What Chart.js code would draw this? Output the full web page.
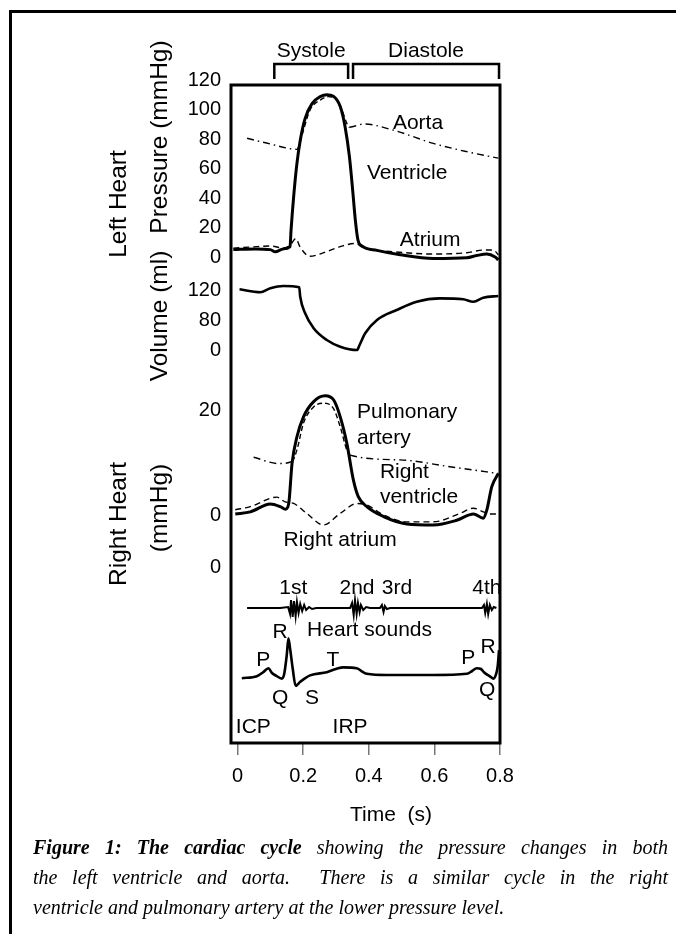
<!DOCTYPE html>
<html>
<head>
<meta charset="utf-8">
<script src="https://cdn.jsdelivr.net/npm/chart.js@4.4.1/dist/chart.umd.min.js"></script>
<style>
  html, body { margin: 0; padding: 0; background: #fff; width: 676px; height: 934px; overflow: hidden; }
  #frame { position: absolute; left: 9px; top: 10px; width: 720px; height: 980px;
           border-left: 3px solid #000; border-top: 3px solid #000; }
  #c { position: absolute; left: 0; top: 0; }
  #cap { position: absolute; left: 33px; top: 832px; width: 635px;
         font-family: "Liberation Serif", "Times New Roman", serif; font-style: italic;
         font-size: 20px; line-height: 30px; color: #000; }
  #cap .j { text-align: justify; text-align-last: justify; white-space: normal; }
</style>
</head>
<body>
<div id="frame"></div>
<canvas id="c" width="676" height="934"></canvas>
<div id="cap">
  <div class="j"><b>Figure 1: The cardiac cycle</b> showing the pressure changes in both</div>
  <div class="j">the left ventricle and aorta.&nbsp; There is a similar cycle in the right</div>
  <div>ventricle and pulmonary artery at the lower pressure level.</div>
</div>
<script>
// ---------------- DATA ----------------
// Time (s)
const xTicks = [0, 0.2, 0.4, 0.6, 0.8];

// Left heart pressure (mmHg)
const lvT = [-0.013, 0.054, 0.100, 0.115, 0.139, 0.160, 0.163, 0.171, 0.181, 0.191, 0.206, 0.227, 0.252, 0.272, 0.292, 0.313, 0.328, 0.341, 0.351, 0.359, 0.367, 0.379, 0.425, 0.496, 0.597, 0.699, 0.729, 0.760, 0.785, 0.795];
const lvP = [5, 5.5, 5, 3.5, 5.5, 7, 18, 41, 63.5, 79, 94, 104, 108.7, 110, 109, 102, 88, 68, 45, 25, 11.5, 7.5, 4.5, 1.5, -1, -0.5, 1, 2, 0, -2];

const aoT = [0.029, 0.100, 0.181, 0.191, 0.201, 0.221, 0.252, 0.277, 0.298, 0.318, 0.333, 0.341, 0.358, 0.384, 0.475, 0.597, 0.699, 0.795];
const aoP = [80.5, 76.6, 73, 78, 86, 99.7, 106.4, 108.7, 107.6, 99.7, 90.6, 88, 88.8, 90.2, 86, 77, 71.4, 67];

const laT = [-0.013, 0.06, 0.10, 0.14, 0.16, 0.178, 0.19, 0.22, 0.27, 0.313, 0.358, 0.385, 0.475, 0.597, 0.699, 0.75, 0.78, 0.795];
const laP = [6, 7, 7.5, 6, 8, 12.5, 7, 0.5, 3.5, 7, 9.2, 6, 3.6, 2, 2.9, 4.7, 4.7, 1.4];

// Left ventricular volume (ml)
const volT = [0.006, 0.069, 0.100, 0.140, 0.188, 0.191, 0.206, 0.232, 0.272, 0.313, 0.364, 0.372, 0.389, 0.425, 0.485, 0.546, 0.617, 0.688, 0.719, 0.749, 0.795];
const volV = [120.9, 117, 122.3, 125.3, 123.6, 111, 89, 69, 53.3, 44.4, 40, 46.7, 62.3, 80, 93.3, 104.4, 108.9, 107.6, 104.4, 109.7, 112];

// Right heart pressure (mmHg)
const rvT = [-0.007, 0.039, 0.100, 0.130, 0.146, 0.156, 0.166, 0.181, 0.201, 0.232, 0.267, 0.293, 0.313, 0.333, 0.353, 0.368, 0.394, 0.445, 0.516, 0.597, 0.668, 0.719, 0.749, 0.760, 0.775, 0.795];
const rvP = [0.2, 0.6, 2.1, 1.6, 1.1, 2.2, 9.8, 14.9, 18.7, 21.6, 22.7, 21.9, 18.7, 13.7, 6.7, 3.5, 1.6, -0.3, -1.7, -1.9, -1, 0.2, -0.6, 1, 5.4, 7.9];

const paT = [0.049, 0.125, 0.166, 0.181, 0.201, 0.232, 0.262, 0.292, 0.313, 0.333, 0.343, 0.495, 0.647, 0.795];
const paP = [11, 9.8, 10.2, 12.4, 17.5, 20.6, 21.3, 20.3, 16.8, 12.4, 11.4, 10.5, 9.2, 7.9];

const raT = [-0.007, 0.039, 0.120, 0.145, 0.171, 0.211, 0.262, 0.313, 0.364, 0.394, 0.445, 0.516, 0.597, 0.678, 0.719, 0.749, 0.770, 0.795];
const raP = [1, 1.6, 3.4, 2.5, 2.2, 0.3, -1.9, 0.3, 2.2, 1.9, 0, -1.3, -1.3, 0.3, 1.3, 0.6, 0.2, 0.2];

// Heart sounds (arbitrary units)
const hsT = [0.029, 0.130, 0.154, 0.160, 0.163, 0.168, 0.172, 0.177, 0.181, 0.186, 0.191, 0.197, 0.203, 0.209, 0.218, 0.227, 0.240, 0.343, 0.349, 0.354, 0.358, 0.363, 0.367, 0.372, 0.376, 0.383, 0.392, 0.404, 0.434, 0.440, 0.445, 0.449, 0.455, 0.465, 0.745, 0.751, 0.755, 0.760, 0.764, 0.769, 0.775, 0.781, 0.789];
const hsA = [0, 0, 1, -6, 8, -9, 7, -8, 6, -5, 4, -3, 3, -2, 1, -1, 0, 0, 5, -7, 8, -6, 5, -4, 3, -2, 1, 0, 0, 3, -4, 2, -1, 0, 0, 3, -5, 4, -6, 3, -2, 1, 0];

// ECG (mV)
const ecgT = [0.013, 0.059, 0.078, 0.094, 0.105, 0.118, 0.135, 0.142, 0.150, 0.155, 0.160, 0.168, 0.177, 0.191, 0.221, 0.272, 0.300, 0.323, 0.363, 0.383, 0.394, 0.455, 0.597, 0.699, 0.715, 0.729, 0.742, 0.751, 0.770, 0.780, 0.788, 0.793, 0.797];
const ecgV = [-0.03, 0.02, 0.12, 0.22, 0.1, 0.03, -0.04, 0.07, 0.55, 0.97, 0.72, 0.22, -0.22, -0.12, 0.04, 0.12, 0.2, 0.24, 0.22, 0.12, 0.08, 0.05, 0.05, 0.08, 0.15, 0.22, 0.2, 0.12, 0.01, -0.04, 0.07, 0.27, 0.67];

// Axis tick labels
const lpTicks = [0, 20, 40, 60, 80, 100, 120];
const volTicks = [120, 80, 40];
const volTickLabels = ['120', '80', '0'];
const rhTicks = [20, 0, -10];
const rhTickLabels = ['20', '0', '0'];

// Cardiac phases (s)
const phaseNames = ['Systole', 'Diastole'];
const phaseStart = [0.112, 0.352];
const phaseEnd = [0.337, 0.797];

// ---------------- LAYOUT ----------------
const AREA = { left: 231, top: 85, right: 500, bottom: 743 };
const FONT = '"Liberation Sans", Arial, sans-serif';

function range(a, pa, b, pb) {
  const k = (pa - pb) / (b - a);
  return { min: a - (AREA.bottom - pa) / k, max: a + (pa - AREA.top) / k };
}
const rLP = range(0, 257, 120, 80);
const rVol = range(120, 290, 80, 320);
const rRH = range(0, 515, 20, 410);
const rSnd = range(0, 608, 10, 598);
const rEcg = range(0, 677, 1, 637);

const pts = (t, v) => t.map((x, i) => ({ x: x, y: v[i] }));
const dashBetween = (lo, hi, inner, outer) => (ctx) =>
  (ctx.p0.parsed.x >= lo - 1e-6 && ctx.p1.parsed.x <= hi + 1e-6) ? inner : outer;

const base = { borderColor: '#000', pointRadius: 0, fill: false, cubicInterpolationMode: 'monotone' };

const datasets = [
  Object.assign({}, base, { label: 'Ventricle', data: pts(lvT, lvP), yAxisID: 'yLP', borderWidth: 3 }),
  Object.assign({}, base, { label: 'Aorta', data: pts(aoT, aoP), yAxisID: 'yLP', borderWidth: 1.4,
    borderDash: [7, 4, 1.5, 4], segment: { borderDash: dashBetween(0.181, 0.341, [5, 3], [7, 4, 1.5, 4]) } }),
  Object.assign({}, base, { label: 'Atrium', data: pts(laT, laP), yAxisID: 'yLP', borderWidth: 1.4, borderDash: [6, 4] }),
  Object.assign({}, base, { label: 'Volume', data: pts(volT, volV), yAxisID: 'yVol', borderWidth: 2.6 }),
  Object.assign({}, base, { label: 'Right ventricle', data: pts(rvT, rvP), yAxisID: 'yRH', borderWidth: 3 }),
  Object.assign({}, base, { label: 'Pulmonary artery', data: pts(paT, paP), yAxisID: 'yRH', borderWidth: 1.4,
    borderDash: [7, 4, 1.5, 4], segment: { borderDash: dashBetween(0.166, 0.343, [5, 3], [7, 4, 1.5, 4]) } }),
  Object.assign({}, base, { label: 'Right atrium', data: pts(raT, raP), yAxisID: 'yRH', borderWidth: 1.4, borderDash: [6, 4] }),
  Object.assign({}, base, { label: 'Heart sounds', data: pts(hsT, hsA), yAxisID: 'ySnd', borderWidth: 2, cubicInterpolationMode: 'default', tension: 0 }),
  Object.assign({}, base, { label: 'ECG', data: pts(ecgT, ecgV), yAxisID: 'yEcg', borderWidth: 2.6 })
];

const yTickSets = [
  { axis: 'yLP', values: lpTicks, labels: lpTicks.map(String) },
  { axis: 'yVol', values: volTicks, labels: volTickLabels },
  { axis: 'yRH', values: rhTicks, labels: rhTickLabels }
];

const titles = [
  { text: 'Left Heart', x: 119, y: 204 },
  { text: 'Pressure (mmHg)', x: 160, y: 137 },
  { text: 'Volume (ml)', x: 160, y: 316 },
  { text: 'Right Heart', x: 119, y: 524 },
  { text: '(mmHg)', x: 160, y: 508 }
];

const notes = [
  { text: 'Aorta', axis: 'yLP', t: 0.550, v: 90.8, align: 'center' },
  { text: 'Ventricle', axis: 'yLP', t: 0.517, v: 57, align: 'center' },
  { text: 'Atrium', axis: 'yLP', t: 0.587, v: 11.5, align: 'center' },
  { text: 'Pulmonary', axis: 'yRH', t: 0.364, v: 19.6, align: 'left' },
  { text: 'artery', axis: 'yRH', t: 0.364, v: 14.7, align: 'left' },
  { text: 'Right', axis: 'yRH', t: 0.434, v: 8.2, align: 'left' },
  { text: 'ventricle', axis: 'yRH', t: 0.434, v: 3.4, align: 'left' },
  { text: 'Right atrium', axis: 'yRH', t: 0.140, v: -4.8, align: 'left' },
  { text: '1st', axis: 'ySnd', t: 0.170, v: 20, align: 'center' },
  { text: '2nd', axis: 'ySnd', t: 0.364, v: 20, align: 'center' },
  { text: '3rd', axis: 'ySnd', t: 0.486, v: 20, align: 'center' },
  { text: '4th', axis: 'ySnd', t: 0.760, v: 20, align: 'center' },
  { text: 'Heart sounds', axis: 'ySnd', t: 0.212, v: -22, align: 'left' },
  { text: 'R', axis: 'yEcg', t: 0.130, v: 1.12, align: 'center' },
  { text: 'P', axis: 'yEcg', t: 0.078, v: 0.42, align: 'center' },
  { text: 'Q', axis: 'yEcg', t: 0.130, v: -0.52, align: 'center' },
  { text: 'S', axis: 'yEcg', t: 0.227, v: -0.52, align: 'center' },
  { text: 'T', axis: 'yEcg', t: 0.291, v: 0.42, align: 'center' },
  { text: 'P', axis: 'yEcg', t: 0.703, v: 0.47, align: 'center' },
  { text: 'R', axis: 'yEcg', t: 0.764, v: 0.75, align: 'center' },
  { text: 'Q', axis: 'yEcg', t: 0.761, v: -0.33, align: 'center' },
  { text: 'ICP', axis: 'yEcg', t: 0.048, v: -1.25, align: 'center' },
  { text: 'IRP', axis: 'yEcg', t: 0.343, v: -1.25, align: 'center' }
];

const decor = {
  id: 'decor',
  afterDraw(chart) {
    const { ctx, chartArea: a, scales } = chart;
    const X = scales.x;
    ctx.save();
    ctx.fillStyle = '#000';
    ctx.strokeStyle = '#000';
    // plot box
    ctx.lineWidth = 3;
    ctx.strokeRect(a.left, a.top, a.right - a.left, a.bottom - a.top);
    // phase brackets
    ctx.lineWidth = 2.5;
    ctx.font = '21px ' + FONT;
    ctx.textAlign = 'center';
    ctx.textBaseline = 'middle';
    phaseNames.forEach((name, i) => {
      const x0 = X.getPixelForValue(phaseStart[i]);
      const x1 = X.getPixelForValue(phaseEnd[i]);
      const yTop = a.top - 21, yBot = a.top - 6;
      ctx.beginPath();
      ctx.moveTo(x0, yBot); ctx.lineTo(x0, yTop); ctx.lineTo(x1, yTop); ctx.lineTo(x1, yBot);
      ctx.stroke();
      ctx.fillText(name, (x0 + x1) / 2, a.top - 34);
    });
    // y tick labels
    ctx.font = '20px ' + FONT;
    ctx.textAlign = 'right';
    yTickSets.forEach(set => {
      const s = scales[set.axis];
      set.values.forEach((v, i) => ctx.fillText(set.labels[i], a.left - 10, s.getPixelForValue(v)));
    });
    // rotated titles
    ctx.font = '24.5px ' + FONT;
    ctx.textAlign = 'center';
    titles.forEach(t => {
      ctx.save();
      ctx.translate(t.x, t.y);
      ctx.rotate(-Math.PI / 2);
      ctx.fillText(t.text, 0, 0);
      ctx.restore();
    });
    // annotations
    ctx.font = '21px ' + FONT;
    notes.forEach(n => {
      ctx.textAlign = n.align;
      ctx.fillText(n.text, X.getPixelForValue(n.t), scales[n.axis].getPixelForValue(n.v));
    });
    // x title
    ctx.textAlign = 'center';
    ctx.fillText('Time  (s)', 391, 815);
    ctx.restore();
  }
};

const yAxis = (r) => ({ type: 'linear', axis: 'y', position: 'left', display: false, min: r.min, max: r.max });

new Chart(document.getElementById('c'), {
  type: 'line',
  data: { datasets: datasets },
  options: {
    responsive: false,
    devicePixelRatio: 1,
    animation: false,
    events: [],
    layout: { padding: { left: AREA.left, right: 676 - AREA.right, top: AREA.top, bottom: 934 - AREA.bottom - 100 } },
    plugins: { legend: { display: false }, tooltip: { enabled: false } },
    scales: {
      x: {
        type: 'linear', axis: 'x', position: 'bottom', min: -0.02, max: 0.8,
        afterBuildTicks: (s) => { s.ticks = xTicks.map(v => ({ value: v })); },
        afterFit: (s) => { s.height = 100; },
        ticks: {
          callback: (v) => (v === 0 ? '0' : v.toFixed(1)),
          font: { family: FONT, size: 20 }, color: '#000', padding: 9,
          maxRotation: 0, autoSkip: false
        },
        grid: { display: true, drawOnChartArea: false, drawTicks: true, tickLength: 12, color: '#777', lineWidth: 1.5 },
        border: { display: false }
      },
      yLP: yAxis(rLP),
      yVol: yAxis(rVol),
      yRH: yAxis(rRH),
      ySnd: yAxis(rSnd),
      yEcg: yAxis(rEcg)
    }
  },
  plugins: [decor]
});
</script>
</body>
</html>
